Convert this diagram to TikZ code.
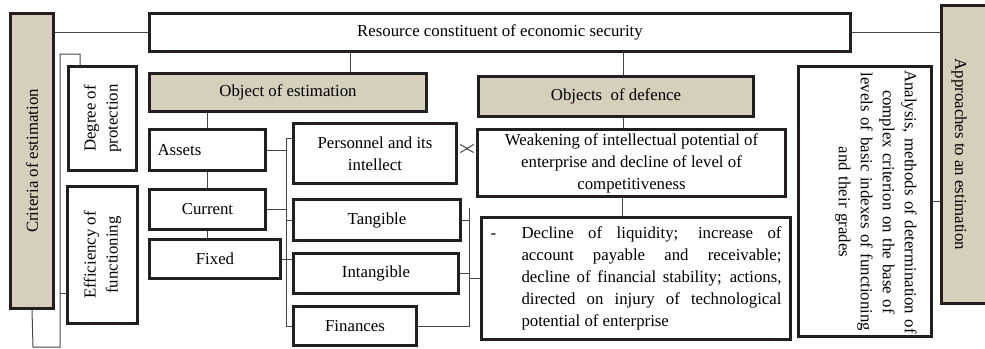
\documentclass[tikz,border=0pt]{standalone}
\usepackage{fontspec}
\setmainfont{Liberation Serif}
\usetikzlibrary{arrows.meta}
\definecolor{boxtan}{RGB}{213,207,187}
\definecolor{boxline}{RGB}{35,31,32}
\definecolor{linkline}{RGB}{70,70,70}
\begin{document}
\begin{tikzpicture}[x=1pt,y=-1pt,font=\fontsize{16.8}{22}\selectfont,
  box/.style={draw=boxline,line width=3.2pt,fill=white,inner sep=2pt,align=center},
  tanbox/.style={box,fill=boxtan},
  link/.style={draw=linkline,line width=1pt}]
\useasboundingbox (0,0) rectangle (985,348);
% outer frame: criteria, resource, approaches
\node[tanbox,rotate=90,minimum width=294.5pt,minimum height=42.5pt] (criteria) at (32,161) {Criteria of estimation};
\node[box,minimum width=700.5pt,minimum height=37.5pt] (resource) at (500,32.5) {Resource constituent of economic security};
\node[tanbox,rotate=-90,minimum width=297.5pt,minimum height=48.5pt,text height=26.5pt,text depth=4.5pt] (approaches) at (966,154.5) {Approaches to an estimation};
\node[box,minimum width=132.5pt,minimum height=269.5pt] (analysis) at (865,201.5) {};
\node[rotate=-90,text width=290pt,align=center] (analysis text) at (876,202) {Analysis, methods of determination of\\ complex criterion on the base of\\ levels of basic indexes of functioning\\ and their grades};
% criteria
\node[box,rotate=90,minimum width=103.5pt,minimum height=67.5pt] (degree) at (102.5,118.5) {Degree of\\ protection};
\node[box,rotate=90,minimum width=136.5pt,minimum height=69.5pt] (efficiency) at (102.5,255) {Efficiency of\\ functioning};
% objects
\node[tanbox,minimum width=276.5pt,minimum height=37.5pt] (objest) at (288,92.5) {Object of estimation};
\node[tanbox,minimum width=274.5pt,minimum height=39.5pt] (objdef) at (616,96.5) {Objects~ of defence};
\node[box,minimum width=115.5pt,minimum height=40.5pt,text width=100pt,align=left] (assets) at (207.5,150) {Assets};
\node[box,minimum width=115.5pt,minimum height=39.5pt] (current) at (207.5,209.5) {Current};
\node[box,minimum width=130.5pt,minimum height=38.5pt] (fixed) at (215,259) {Fixed};
\node[box,minimum width=162.5pt,minimum height=59.5pt] (personnel) at (375,153.5) {Personnel and its\\ intellect};
\node[box,minimum width=166.5pt,minimum height=40.5pt] (tangible) at (377,220) {Tangible};
\node[box,minimum width=164.5pt,minimum height=39.5pt] (intangible) at (376,273.5) {Intangible};
\node[box,minimum width=122.5pt,minimum height=38.5pt] (finances) at (355,326) {Finances};
\node[box,minimum width=307.5pt,minimum height=66.5pt] (weakening) at (631.5,163) {Weakening of intellectual potential of\\ enterprise and decline of level of\\ competitiveness};
\node[box,minimum width=308.5pt,minimum height=121.5pt,text width=291pt,align=left] (decline) at (636,278.5) {\makebox[31pt][l]{-}\parbox[t]{260pt}{\rightskip=0pt\spaceskip=0pt\xspaceskip=0pt\parfillskip=0pt plus 1fil
  Decline of liquidity; increase of\linebreak account payable and receivable;\linebreak decline of financial stability; actions,\linebreak directed on injury of technological\linebreak potential of enterprise}};
% top links
\draw[link] (resource.west) -- (resource.west -| criteria.south);
\draw[link] (resource.east) -- (resource.east -| approaches.south);
\draw[link] (analysis.east) -- (analysis.east -| approaches.south);
\draw[link] ([xshift=62pt]objest.north) -- ([xshift=62pt]objest.north |- resource.south);
\draw[link] ([xshift=7pt]objdef.north) -- ([xshift=7pt]objdef.north |- resource.south);
\draw[link] ([xshift=7pt]objdef.south) -- ([xshift=7pt]objdef.south |- weakening.north);
\draw[link] ([xshift=-9pt]weakening.south) -- ([xshift=-9pt]weakening.south |- decline.north);
% left bracket
\coordinate (crit foot) at (33,347);
\coordinate (lb bot) at (60,347);
\coordinate (lb top) at (60,54);
\coordinate (hook) at (80,54);
\coordinate (eff tick) at (60,293);
\draw[link] (criteria.west) -- (crit foot) -- (lb bot) -- (lb top) -- (hook) -- (hook |- degree.east);
\draw[link] (eff tick) -- (eff tick -| efficiency.north);
% assets column
\draw[link] (assets.north) -- (assets.north |- objest.south);
\draw[link] (assets.south) -- (current.north);
\draw[link] (current.south) -- (current.south |- fixed.north);
% middle bracket
\coordinate (mb top) at (286,138);
\coordinate (mb bot) at (finances.west -| mb top);
\draw[link] (mb top) -- (mb bot) -- (finances.west);
\draw[link] (mb top) -- (mb top -| personnel.west);
\draw[link] (assets.east) -- (assets.east -| mb top);
\draw[link] (current.east) -- (current.east -| mb top);
\draw[link] (tangible.west) -- (tangible.west -| mb top);
\draw[link] (fixed.east) -- (fixed.east -| intangible.west);
% right bracket
\coordinate (rb top) at (469,208);
\coordinate (rb bot) at (finances.east -| rb top);
\draw[link] (rb top) -- (rb bot) -- (finances.east);
\draw[link] (tangible.east) -- (tangible.east -| rb top);
\draw[link] (intangible.east) -- (intangible.east -| rb top);
\draw[link] (decline.west) -- (decline.west -| rb top);
\draw[link,{Straight Barb[reversed,length=7pt,width=8pt]}-{Straight Barb[reversed,length=7pt,width=8pt]},shorten <=2pt,shorten >=2pt] ([yshift=5pt]personnel.east) -- ([yshift=5pt]personnel.east -| weakening.west);
\end{tikzpicture}
\end{document}
